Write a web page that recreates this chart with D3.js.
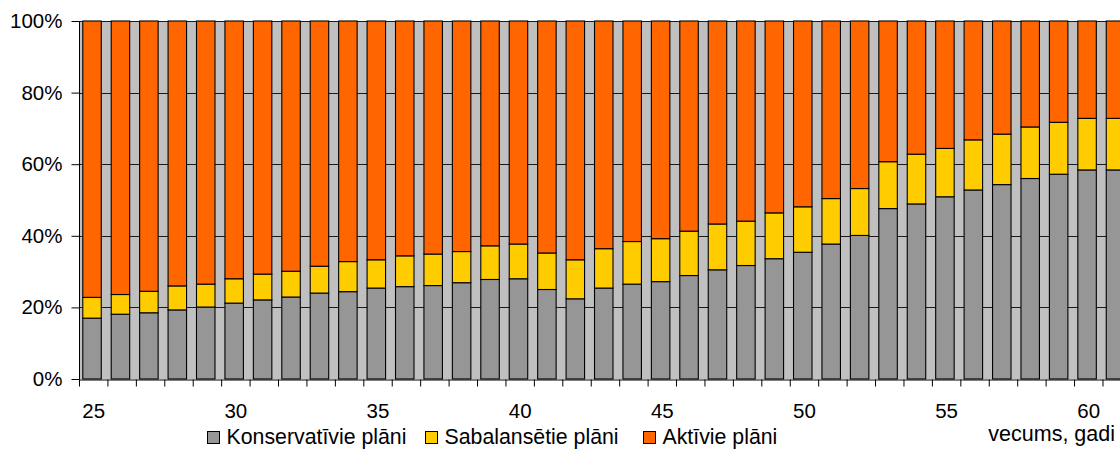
<!DOCTYPE html>
<html>
<head>
<meta charset="utf-8">
<script src="https://cdn.jsdelivr.net/npm/d3@7"></script>
<style>
  html, body { margin: 0; padding: 0; background: #fff; overflow: hidden; }
  svg { display: block; font-family: Arial, "Liberation Sans", sans-serif; }
</style>
</head>
<body>
<svg id="chart" width="1120" height="449"></svg>
<script>
// ---- data (percent of participants by age) ----
const ages = d3.range(25, 62); // 25 .. 61
const konservativie = [17.0,18.1,18.5,19.3,20.1,21.2,22.1,22.9,24.0,24.4,25.4,25.8,26.1,26.9,27.8,28.0,25.0,22.4,25.4,26.5,27.2,28.9,30.5,31.7,33.6,35.4,37.7,40.1,47.6,48.9,50.9,52.8,54.3,56.0,57.2,58.4,58.4];
const sabalansetie  = [5.8,5.5,6.0,6.7,6.4,6.8,7.2,7.2,7.5,8.4,7.9,8.6,8.8,8.7,9.4,9.7,10.2,10.9,11.0,11.9,12.0,12.4,12.8,12.4,12.8,12.7,12.7,13.1,13.1,13.9,13.5,14.0,14.1,14.4,14.5,14.4,14.4];
const aktivie       = [77.2,76.4,75.5,74.0,73.5,72.0,70.7,69.9,68.5,67.2,66.7,65.6,65.1,64.4,62.8,62.3,64.8,66.7,63.6,61.6,60.8,58.7,56.7,55.9,53.6,51.9,49.6,46.8,39.3,37.2,35.6,33.2,31.6,29.6,28.3,27.2,27.2];
const seriesNames = ["Konservatīvie plāni", "Sabalansētie plāni", "Aktīvie plāni"];
const seriesKeys = ["kons", "sab", "akt"];
const yTickValues = [0, 20, 40, 60, 80, 100];
const xLabelValues = [25, 30, 35, 40, 45, 50, 55, 60];
const xAxisTitle = "vecums, gadi";

const colors = { kons: "#969696", sab: "#FFCC00", akt: "#FF6600" };

const rows = ages.map((a, i) => ({ age: a, kons: konservativie[i], sab: sabalansetie[i], akt: aktivie[i] }));
const stacked = d3.stack().keys(seriesKeys)(rows);

// ---- layout ----
const plotLeft = 79, plotTop = 21, plotBottom = 379;
const step = 28.43;
const plotRight = plotLeft + step * ages.length; // extends beyond the viewport (clipped like the reference)

const svg = d3.select("#chart");

const x = d3.scaleBand().domain(ages).range([plotLeft, plotRight]).paddingInner(0.35).paddingOuter(0.175).align(0.38);
const xEdge = d3.scaleLinear().domain([0, ages.length]).range([plotLeft, plotRight]);
const y = d3.scaleLinear().domain([0, 100]).range([plotBottom, plotTop]);

// plot background
svg.append("rect").attr("x", plotLeft).attr("y", plotTop).attr("width", plotRight - plotLeft).attr("height", plotBottom - plotTop).attr("fill", "#C0C0C0");

// gridlines
svg.append("g").selectAll("line").data(yTickValues.filter(v => v > 0)).join("line")
  .attr("x1", plotLeft).attr("x2", plotRight)
  .attr("y1", d => Math.round(y(d)) + 0.5).attr("y2", d => Math.round(y(d)) + 0.5)
  .attr("stroke", "#1a1a1a").attr("stroke-width", 1);

// bars
svg.append("g").selectAll("g").data(stacked).join("g")
  .attr("fill", d => colors[d.key])
  .selectAll("rect").data(d => d).join("rect")
  .attr("x", d => x(d.data.age))
  .attr("width", x.bandwidth())
  .attr("y", d => y(d[1]))
  .attr("height", d => y(d[0]) - y(d[1]))
  .attr("stroke", "#000").attr("stroke-width", 1.1);

// y axis
const yAxis = d3.axisLeft(y).tickValues(yTickValues).tickFormat(d => d + "%").tickSize(8).tickPadding(9);
const gy = svg.append("g").attr("transform", `translate(${plotLeft + 0.5},0)`).call(yAxis);
gy.select(".domain").attr("stroke", "#000").attr("d", `M0,${plotTop}V${plotBottom}`);
gy.selectAll(".tick line").attr("stroke", "#000");
gy.selectAll(".tick text").attr("font-size", 20.5).attr("fill", "#000").attr("font-family", "Arial, 'Liberation Sans', sans-serif");

// x axis: tick marks at category boundaries
const gxTicks = svg.append("g").attr("transform", `translate(0,${plotBottom + 0.5})`)
  .call(d3.axisBottom(xEdge).tickValues(d3.range(0, ages.length + 1)).tickFormat("").tickSize(7).tickSizeOuter(0));
gxTicks.select(".domain").attr("stroke", "#000");
gxTicks.selectAll(".tick line").attr("stroke", "#000");

// x labels at category centers
const xCenter = d3.scaleLinear().domain([ages[0] - 0.5, ages[0] - 0.5 + ages.length]).range([plotLeft, plotRight]);
const gxLab = svg.append("g").attr("transform", `translate(0,${plotBottom})`)
  .call(d3.axisBottom(xCenter).tickValues(xLabelValues).tickFormat(d3.format("d")).tickSize(0).tickPadding(24));
gxLab.select(".domain").remove();
gxLab.selectAll(".tick text").attr("font-size", 20.5).attr("fill", "#000").attr("font-family", "Arial, 'Liberation Sans', sans-serif");

// axis title
svg.append("text").attr("x", 1115).attr("y", 441).attr("text-anchor", "end")
  .attr("font-size", 21.5).attr("fill", "#000").text(xAxisTitle);

// legend
const legendX = [207, 425, 643];
const lg = svg.append("g").selectAll("g").data(seriesKeys).join("g")
  .attr("transform", (d, i) => `translate(${legendX[i]},0)`);
lg.append("rect").attr("x", 0.5).attr("y", 431.5).attr("width", 12).attr("height", 12)
  .attr("fill", d => colors[d]).attr("stroke", "#000").attr("stroke-width", 1);
lg.append("text").attr("x", 19.5).attr("y", 444).attr("font-size", 21.3).attr("fill", "#000")
  .text((d, i) => seriesNames[i]);
</script>
</body>
</html>
